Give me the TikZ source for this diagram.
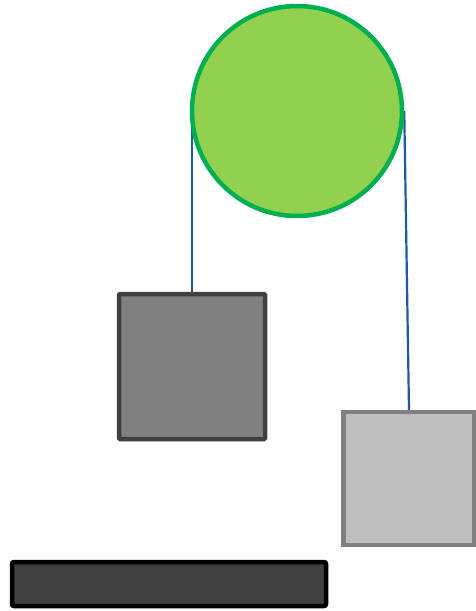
\documentclass[tikz,border=0pt]{standalone}
\usetikzlibrary{backgrounds}
\definecolor{pulleyfill}{HTML}{92D050}
\definecolor{pulleyline}{HTML}{00B050}
\definecolor{ropeblue}{HTML}{1F5AA0}
\tikzset{
  pulleystyle/.style={circle, draw=pulleyline, fill=pulleyfill, line width=4.5pt, minimum size=210pt, inner sep=0pt},
  massbox/.style={draw=#1!50!black, fill=#1, line width=4.5pt, inner sep=0pt, rounded corners=1pt},
  rope/.style={draw=ropeblue, line width=2.2pt}
}
\begin{document}
\begin{tikzpicture}[x=1pt,y=-1pt]
  \useasboundingbox (0,0) rectangle (476,611);
  \node[pulleystyle] (pulley) at (297,111) {};
  \node[massbox=gray, minimum width=146pt, minimum height=145pt] (massA) at (192,366.5) {};
  \node[draw=gray, fill=lightgray, line width=4.5pt, inner sep=0pt, minimum width=131pt, minimum height=133pt] (massB) at (409,478.5) {};
  \node[draw=black, fill=black!75, line width=4.5pt, inner sep=0pt, rounded corners=2pt, minimum width=314pt, minimum height=44pt] (floor) at (169,584) {};
  \begin{scope}[on background layer]
    \draw[rope] (massA.north |- pulley.center) -- (massA.north);
    \draw[rope] (pulley.east) -- (massB.north);
  \end{scope}
\end{tikzpicture}
\end{document}
